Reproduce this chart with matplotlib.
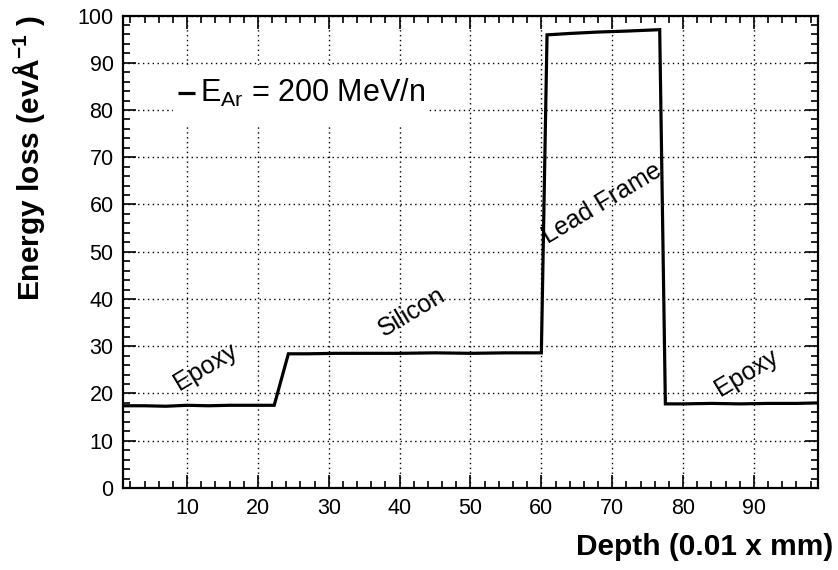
"""
Energy loss vs depth for Ar at 200 MeV/n through a chip package.
"""

import matplotlib
matplotlib.use("Agg")
import matplotlib.pyplot as plt
from matplotlib.patches import Rectangle
from matplotlib.ticker import MultipleLocator

plt.rcParams["font.family"] = ["Liberation Sans", "DejaVu Sans"]
plt.rcParams["mathtext.fontset"] = "custom"
plt.rcParams["mathtext.rm"] = "Liberation Sans"
plt.rcParams["mathtext.it"] = "Liberation Sans:italic"
plt.rcParams["mathtext.bf"] = "Liberation Sans:bold"

# Curve
depth = [1, 4, 7, 10, 13, 16, 19, 22.3, 24.3, 27, 31, 35, 40, 45, 50, 55, 60.0,
         60.8, 64, 68, 72, 76.7, 77.5, 80, 84, 88, 92, 96, 99]
eloss = [17.4, 17.4, 17.3, 17.5, 17.4, 17.5, 17.5, 17.5, 28.4, 28.4, 28.5, 28.5,
         28.5, 28.6, 28.5, 28.6, 28.6,
         95.9, 96.2, 96.5, 96.7, 97.0, 17.8, 17.8, 17.9, 17.8, 17.9, 17.9, 18.0]

# Region labels: text, x, y
region_text = ["Epoxy", "Silicon", "Lead Frame", "Epoxy"]
region_x = [12.6, 41.7, 68.6, 88.9]
region_y = [25.6, 37.3, 60.2, 24.3]

legend_text = r"E$_{\mathrm{Ar}}$ = 200 MeV/n"


def main():
    fig = plt.figure(figsize=(8.38, 5.70), dpi=100)
    ax = fig.add_axes([0.1471, 0.1439, 0.8287, 0.8289])

    ax.plot(depth, eloss, color="black", linewidth=2.3, solid_joinstyle="miter",
            zorder=3)

    ax.set_xlim(1, 99)
    ax.set_ylim(0, 100)

    ax.xaxis.set_major_locator(MultipleLocator(10))
    ax.xaxis.set_minor_locator(MultipleLocator(2))
    ax.yaxis.set_major_locator(MultipleLocator(10))
    ax.yaxis.set_minor_locator(MultipleLocator(2))

    ax.tick_params(which="both", direction="in", top=True, right=True,
                   labelsize=15.5, width=1.2)
    ax.tick_params(which="major", length=9.5, pad=7)
    ax.tick_params(which="minor", length=5)
    for s in ax.spines.values():
        s.set_linewidth(1.6)

    ax.grid(True, which="major", color="black", linestyle=(0, (1, 2.5)),
            linewidth=1.0)

    for t, x, y in zip(region_text, region_x, region_y):
        ax.text(x, y, t, rotation=31, rotation_mode="anchor",
                ha="center", va="center", fontsize=18, zorder=4)

    # legend box (white, no border)
    ax.add_patch(Rectangle((0.0716, 0.7686), 0.367, 0.127,
                           transform=ax.transAxes, facecolor="white",
                           edgecolor="none", zorder=2.5))
    ax.plot([0.079, 0.1036], [0.836, 0.836], transform=ax.transAxes,
            color="black", linewidth=2.3, solid_capstyle="butt", zorder=4)
    ax.text(0.1109, 0.817, legend_text, transform=ax.transAxes,
            ha="left", va="baseline", fontsize=22, zorder=4)

    fig.text(0.994, 1 - 547 / 570, "Depth (0.01 x mm)", ha="right",
             va="center", fontsize=21.5, fontweight="bold")
    fig.text(29 / 838, 1 - 15 / 570, r"Energy loss (evÅ$^{\mathbf{-1}}$ )",
             ha="center", va="top", rotation=90, fontsize=21.5,
             fontweight="bold")

    fig.savefig("out.png", dpi=100)
    plt.close(fig)


if __name__ == "__main__":
    main()
